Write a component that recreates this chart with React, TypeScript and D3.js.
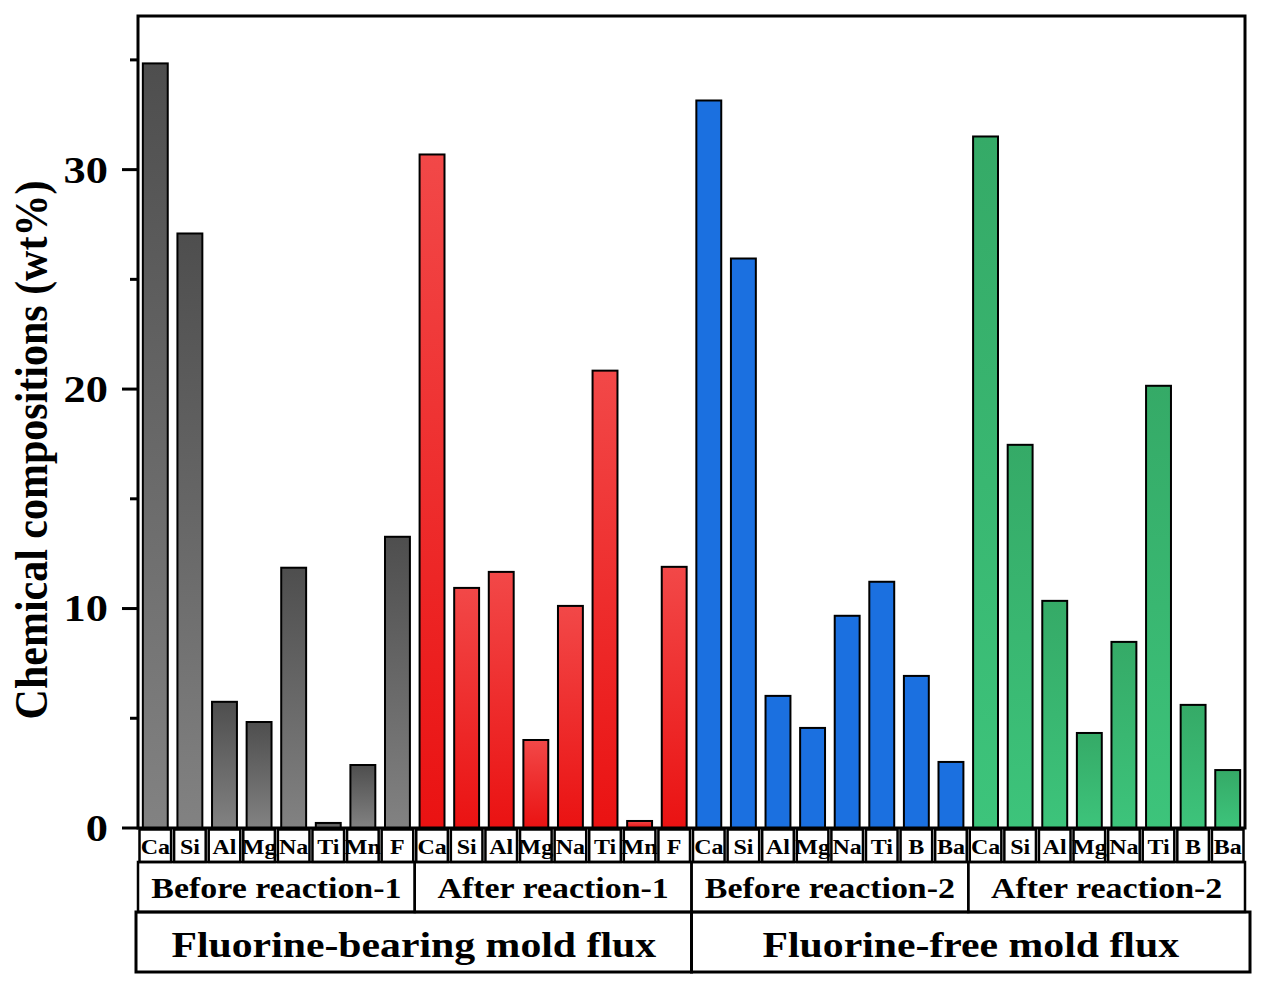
import React from "react";
import * as d3 from "d3";

const elements1 = ["Ca", "Si", "Al", "Mg", "Na", "Ti", "Mn", "F"];
const elements2 = ["Ca", "Si", "Al", "Mg", "Na", "Ti", "B", "Ba"];
const groupNames = ["Before reaction-1", "After reaction-1", "Before reaction-2", "After reaction-2"];
const fluxNames = ["Fluorine-bearing mold flux", "Fluorine-free mold flux"];

const before1 = [34.84, 27.09, 5.75, 4.83, 11.86, 0.23, 2.87, 13.27];
const after1 = [30.69, 10.94, 11.67, 4.01, 10.12, 20.84, 0.32, 11.9];
const before2 = [33.15, 25.95, 6.02, 4.56, 9.67, 11.22, 6.93, 3.01];
const after2 = [31.51, 17.46, 10.35, 4.33, 8.48, 20.15, 5.61, 2.64];

const majorTicks = [0, 10, 20, 30];
const minorTicks = [5, 15, 25, 35];

const gradients = [
  { id: "g0", top: "#4e4e4e", bottom: "#828282" },
  { id: "g1", top: "#f24848", bottom: "#ea1212" },
  { id: "g2", top: "#1b70e0", bottom: "#1b70e0" },
  { id: "g3", top: "#35aa67", bottom: "#3dc47b" },
];

const FONT = "'Liberation Serif', 'Times New Roman', serif";

export default function App() {
  const W = 1266, H = 988;
  const left = 138, right = 1245, top = 16, bottom = 828;

  const groups = [
    { name: groupNames[0], els: elements1, vals: before1 },
    { name: groupNames[1], els: elements1, vals: after1 },
    { name: groupNames[2], els: elements2, vals: before2 },
    { name: groupNames[3], els: elements2, vals: after2 },
  ];
  const bars = groups.flatMap((g, gi) =>
    g.els.map((e, i) => ({ key: `${gi}-${i}`, el: e, v: g.vals[i], gi }))
  );

  const x = d3.scaleBand<string>().domain(bars.map((b) => b.key)).range([left, right]).paddingInner(0.28).paddingOuter(0.14);
  const y = d3.scaleLinear().domain([0, 37]).range([bottom, top]);
  const step = x.step();

  const row1Top = bottom, row1Bot = 862, row2Bot = 912, row3Bot = 972;

  return (
    <svg width={W} height={H} style={{ position: "absolute", left: 0, top: 0, background: "#fff" }} fontFamily={FONT}>
      <defs>
        {gradients.map((g) => (
          <linearGradient key={g.id} id={g.id} x1="0" y1="0" x2="0" y2="1">
            <stop offset="0%" stopColor={g.top} />
            <stop offset="100%" stopColor={g.bottom} />
          </linearGradient>
        ))}
      </defs>

      {/* bars */}
      {bars.map((b) => (
        <rect
          key={b.key}
          x={x(b.key)!}
          y={y(b.v)}
          width={x.bandwidth()}
          height={y(0) - y(b.v)}
          fill={`url(#${gradients[b.gi].id})`}
          stroke="#000"
          strokeWidth={2}
        />
      ))}

      {/* frame */}
      <rect x={left} y={top} width={right - left} height={bottom - top} fill="none" stroke="#000" strokeWidth={3} />

      {/* y ticks */}
      {majorTicks.map((t) => (
        <g key={t}>
          <line x1={left - 16} x2={left} y1={y(t)} y2={y(t)} stroke="#000" strokeWidth={3} />
          <text transform={`translate(108, ${y(t)}) scale(1.2, 1)`} dy="0.35em" textAnchor="end" fontSize={37} fontWeight="bold">{t}</text>
        </g>
      ))}
      {minorTicks.map((t) => (
        <line key={t} x1={left - 8} x2={left} y1={y(t)} y2={y(t)} stroke="#000" strokeWidth={3} />
      ))}

      <text
        transform={`translate(47, ${(y(0) + y(37)) / 2 + 28}) rotate(-90) scale(1, 1.12)`}
        textAnchor="middle"
        fontSize={42}
        fontWeight="bold"
      >
        Chemical compositions (wt%)
      </text>

      {/* row 1: element labels */}
      {bars.map((b) => {
        const x0 = x(b.key)! - step * 0.14;
        return (
          <g key={"l" + b.key}>
            <rect x={x0 + 1.5} y={row1Top + 1.5} width={step - 3} height={row1Bot - row1Top - 1.5} fill="#fff" stroke="#000" strokeWidth={2.5} />
            <text transform={`translate(${x0 + step / 2}, ${(row1Top + row1Bot) / 2 + 2}) scale(1.2, 1)`} dy="0.35em" textAnchor="middle" fontSize={20} fontWeight="bold">{b.el}</text>
          </g>
        );
      })}

      {/* row 2: groups */}
      {groups.map((g, gi) => {
        const x0 = left + gi * 8 * step;
        const w = 8 * step;
        return (
          <g key={"g" + gi}>
            <rect x={x0} y={row1Bot} width={w} height={row2Bot - row1Bot} fill="none" stroke="#000" strokeWidth={2.5} />
            <text transform={`translate(${x0 + w / 2}, ${(row1Bot + row2Bot) / 2 + 1}) scale(1.17, 1)`} dy="0.35em" textAnchor="middle" fontSize={29} fontWeight="bold">{g.name}</text>
          </g>
        );
      })}

      {/* row 3: flux */}
      {fluxNames.map((n, i) => {
        const x0 = i === 0 ? 136 : left + 16 * step;
        const x1 = i === 0 ? left + 16 * step : 1250;
        return (
          <g key={"f" + i}>
            <rect x={x0} y={row2Bot} width={x1 - x0} height={row3Bot - row2Bot} fill="none" stroke="#000" strokeWidth={3} />
            <text transform={`translate(${(x0 + x1) / 2}, ${(row2Bot + row3Bot) / 2 + 2}) scale(1.16, 1)`} dy="0.35em" textAnchor="middle" fontSize={36} fontWeight="bold">{n}</text>
          </g>
        );
      })}
    </svg>
  );
}
